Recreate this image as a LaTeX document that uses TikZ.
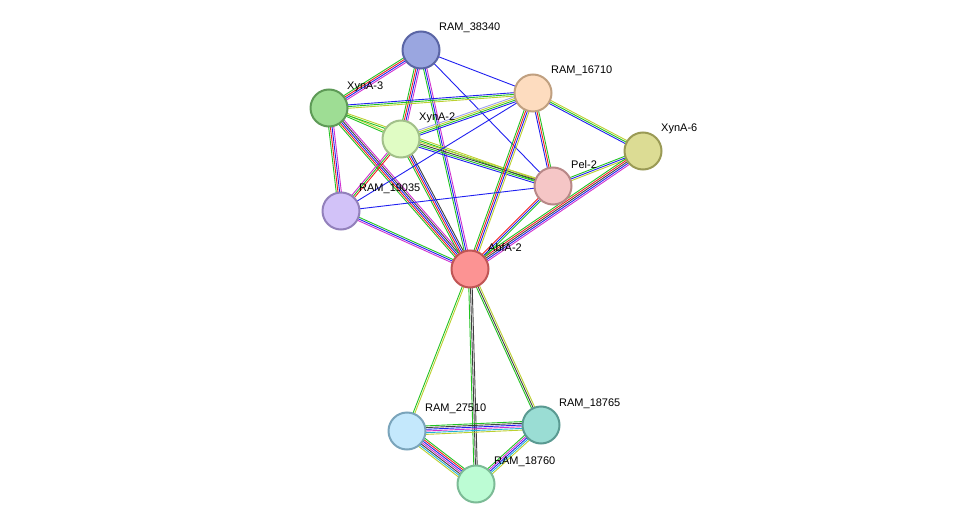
\documentclass[tikz,border=0pt]{standalone}
\usepackage{fontspec}
\setmainfont{Liberation Sans}
\usetikzlibrary{calc}
\definecolor{cg}{HTML}{22C322}\definecolor{cr}{HTML}{F02020}\definecolor{cb}{HTML}{2020F0}
\definecolor{ck}{HTML}{404040}\definecolor{cm}{HTML}{D030D0}\definecolor{cc}{HTML}{20B0D8}
\definecolor{cy}{HTML}{BCD030}\definecolor{ch}{HTML}{A0A0F0}
\newcommand\medge[3]{%
  \foreach \c [count=\k] in {#3}{\xdef\nn{\k}}%
  \foreach \c [count=\i] in {#3}{%
    \pgfmathsetmacro\off{(\i-(\nn+1)/2)*1.7}%
    \draw[draw=\c,line width=0.9pt] ($(p#1)!\off pt!90:(p#2)$) -- ($(p#2)!\off pt!-90:(p#1)$);}}
\tikzset{prot/.style={circle,minimum size=37pt,inner sep=0pt,line width=2pt},
 lab/.style={anchor=west,font=\fontsize{11}{12}\selectfont,inner sep=0pt}}
\begin{document}
\begin{tikzpicture}[x=1pt,y=-1pt]
\useasboundingbox (0,0) rectangle (976,529);
\coordinate (pA) at (421,50);  \coordinate (pB) at (533,93);
\coordinate (pC) at (329,108); \coordinate (pD) at (401,139);
\coordinate (pE) at (643,151); \coordinate (pF) at (553,186);
\coordinate (pG) at (341,211); \coordinate (pH) at (470,269);
\coordinate (pI) at (407,431); \coordinate (pJ) at (541,425);
\coordinate (pK) at (476,484);
\medge{A}{C}{cg,cr,cb,cm}
\medge{A}{D}{cg,cr,cb,cm}
\medge{A}{H}{cg,cb,cm}
\medge{A}{B}{cb}
\medge{A}{F}{cb}
\medge{C}{B}{cy,cg,cb}
\medge{C}{D}{cg,cy}
\medge{C}{G}{cg,cr,cb,cm}
\medge{C}{H}{cg,cr,cb,ck,cm}
\medge{C}{F}{cg,cy}
\medge{D}{B}{cb,cg,cy,ch}
\medge{D}{F}{cb,cg,ck,cy}
\medge{D}{G}{cm,cg,cr}
\medge{D}{H}{cg,cr,cb,ck}
\medge{B}{G}{cb}
\medge{B}{F}{cb,cr,cg}
\medge{B}{H}{cg,cr,cb,cy}
\medge{B}{E}{cb,cg,cy}
\medge{E}{F}{cg,cb,cy}
\medge{E}{H}{cg,cr,ck,cb,cm}
\medge{F}{H}{cr,cb,cg}
\medge{F}{G}{cb}
\medge{G}{H}{cm,cb,cg}
\medge{H}{I}{cg,cy}
\medge{H}{K}{cg,ck,ck}
\medge{H}{J}{cg,ck,cy}
\medge{I}{J}{cy,cc,cm,cb,ck,cg}
\medge{I}{K}{cy,cc,ck,cm,cb,cr,cg}
\medge{J}{K}{cg,cm,cb,cc,cy}
\node[prot,fill={rgb,255:red,154;green,166;blue,224},draw={rgb,255:red,90;green,101;blue,165}] (A) at (pA) {};
\node[prot,fill={rgb,255:red,253;green,220;blue,191},draw={rgb,255:red,192;green,160;blue,128}] (B) at (pB) {};
\node[prot,fill={rgb,255:red,158;green,221;blue,148},draw={rgb,255:red,94;green,154;blue,87}] (C) at (pC) {};
\node[prot,fill={rgb,255:red,224;green,252;blue,196},draw={rgb,255:red,162;green,192;blue,138}] (D) at (pD) {};
\node[prot,fill={rgb,255:red,220;green,220;blue,148},draw={rgb,255:red,154;green,154;blue,85}] (E) at (pE) {};
\node[prot,fill={rgb,255:red,245;green,198;blue,198},draw={rgb,255:red,184;green,136;blue,136}] (F) at (pF) {};
\node[prot,fill={rgb,255:red,210;green,194;blue,248},draw={rgb,255:red,146;green,128;blue,187}] (G) at (pG) {};
\node[prot,fill={rgb,255:red,252;green,147;blue,147},draw={rgb,255:red,192;green,85;blue,85}] (H) at (pH) {};
\node[prot,fill={rgb,255:red,196;green,232;blue,252},draw={rgb,255:red,122;green,164;blue,187}] (I) at (pI) {};
\node[prot,fill={rgb,255:red,154;green,221;blue,212},draw={rgb,255:red,90;green,154;blue,146}] (J) at (pJ) {};
\node[prot,fill={rgb,255:red,188;green,252;blue,212},draw={rgb,255:red,124;green,187;blue,150}] (K) at (pK) {};
\node[lab] (lA) at ($(pA)+(18,-22)$) {RAM\_38340};
\node[lab] (lB) at ($(pB)+(18,-22)$) {RAM\_16710};
\node[lab] (lC) at ($(pC)+(18,-21)$) {XynA-3};
\node[lab] (lD) at ($(pD)+(18,-21)$) {XynA-2};
\node[lab] (lE) at ($(pE)+(18,-22)$) {XynA-6};
\node[lab] (lF) at ($(pF)+(18,-21)$) {Pel-2};
\node[lab] (lG) at ($(pG)+(18,-22)$) {RAM\_19035};
\node[lab] (lH) at ($(pH)+(18,-21)$) {AbfA-2};
\node[lab] (lI) at ($(pI)+(18,-22)$) {RAM\_27510};
\node[lab] (lJ) at ($(pJ)+(18,-21)$) {RAM\_18765};
\node[lab] (lK) at ($(pK)+(18,-22)$) {RAM\_18760};
\end{tikzpicture}
\end{document}
